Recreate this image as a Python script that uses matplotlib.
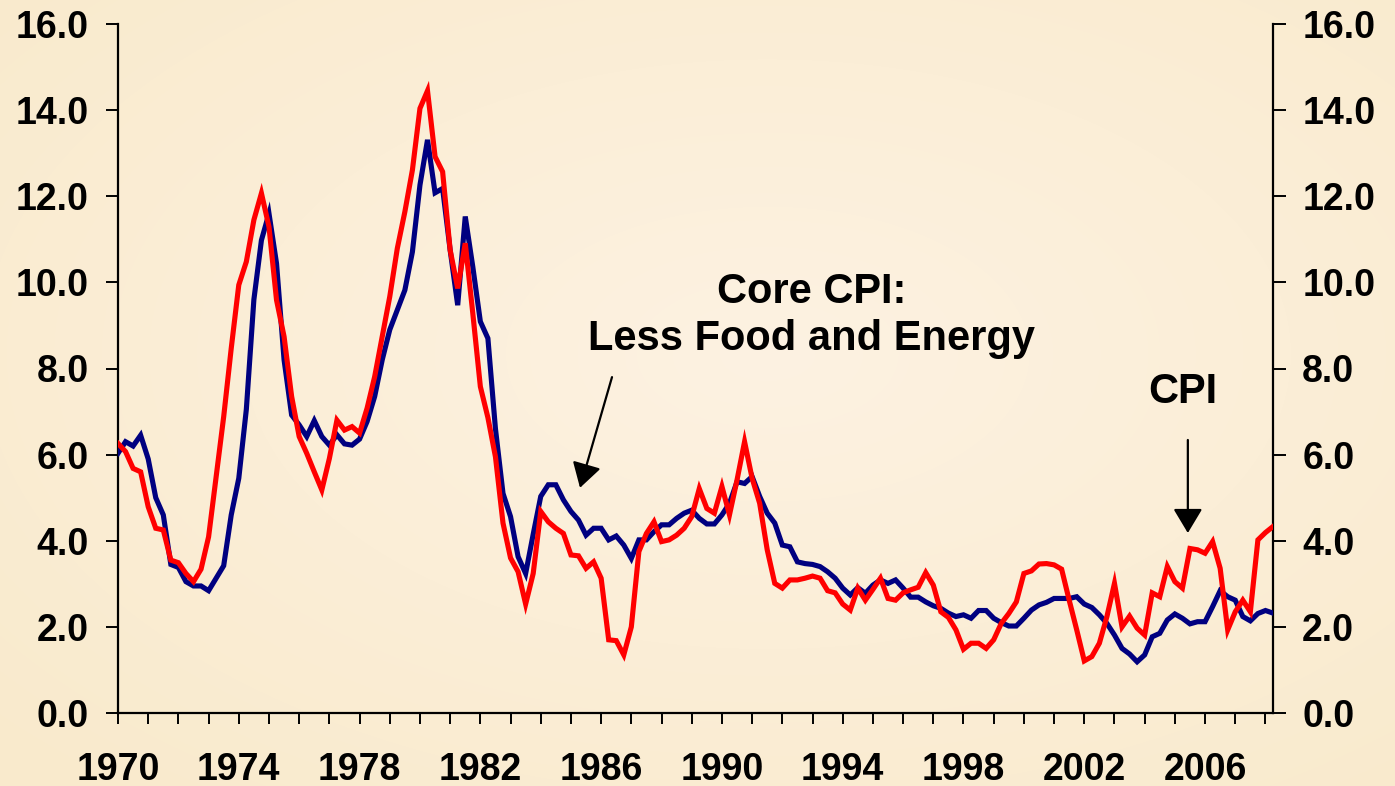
import numpy as np
import matplotlib
matplotlib.use("Agg")
import matplotlib.pyplot as plt

# quarterly data, 1970Q1 .. 2008Q2 (percent, yoy)
start_year = 1970
core_cpi = [6.03, 6.30, 6.20, 6.45, 5.90, 5.00, 4.60, 3.45, 3.38, 3.05,
            2.95, 2.95, 2.84, 3.13, 3.42, 4.60, 5.45, 7.05, 9.60, 10.98,
            11.60, 10.44, 8.20, 6.92, 6.69, 6.42, 6.79, 6.42, 6.22, 6.46,
            6.25, 6.22, 6.36, 6.77, 7.35, 8.20, 8.90, 9.36, 9.82, 10.71,
            12.26, 13.31, 12.08, 12.18, 10.75, 9.47, 11.53, 10.36, 9.09, 8.70,
            6.60, 5.10, 4.56, 3.63, 3.24, 4.15, 5.03, 5.30, 5.30, 4.95,
            4.68, 4.48, 4.13, 4.29, 4.29, 4.02, 4.11, 3.90, 3.59, 4.02,
            4.02, 4.21, 4.37, 4.37, 4.52, 4.64, 4.71, 4.52, 4.39, 4.39,
            4.60, 4.87, 5.37, 5.33, 5.49, 5.03, 4.64, 4.41, 3.90, 3.86,
            3.51, 3.47, 3.45, 3.40, 3.28, 3.13, 2.90, 2.74, 2.91, 2.78,
            2.97, 3.09, 3.01, 3.09, 2.90, 2.69, 2.69, 2.58, 2.49, 2.43,
            2.32, 2.24, 2.28, 2.20, 2.38, 2.38, 2.20, 2.10, 2.02, 2.02,
            2.20, 2.39, 2.51, 2.57, 2.66, 2.66, 2.66, 2.70, 2.53, 2.45,
            2.28, 2.08, 1.81, 1.50, 1.37, 1.19, 1.35, 1.77, 1.85, 2.16,
            2.30, 2.20, 2.07, 2.12, 2.12, 2.47, 2.84, 2.70, 2.62, 2.24,
            2.14, 2.31, 2.38, 2.32]
cpi = [6.26, 6.07, 5.68, 5.60, 4.79, 4.29, 4.25, 3.55, 3.49, 3.24,
       3.05, 3.34, 4.09, 5.49, 6.88, 8.47, 9.94, 10.48, 11.45, 12.07,
       11.29, 9.59, 8.74, 7.35, 6.42, 6.03, 5.60, 5.18, 5.91, 6.80,
       6.57, 6.65, 6.50, 7.08, 7.81, 8.74, 9.67, 10.79, 11.64, 12.61,
       14.04, 14.45, 12.92, 12.57, 10.75, 9.86, 10.91, 9.28, 7.58, 6.86,
       5.95, 4.41, 3.60, 3.28, 2.53, 3.24, 4.68, 4.44, 4.29, 4.17,
       3.67, 3.65, 3.36, 3.51, 3.13, 1.70, 1.68, 1.35, 2.00, 3.75,
       4.17, 4.44, 3.98, 4.02, 4.13, 4.29, 4.56, 5.21, 4.75, 4.64,
       5.26, 4.60, 5.41, 6.30, 5.45, 4.87, 3.79, 3.01, 2.90, 3.09,
       3.09, 3.13, 3.18, 3.13, 2.84, 2.79, 2.53, 2.39, 2.90, 2.62,
       2.87, 3.13, 2.66, 2.62, 2.79, 2.86, 2.92, 3.26, 2.97, 2.35,
       2.22, 1.93, 1.48, 1.62, 1.62, 1.50, 1.70, 2.08, 2.31, 2.58,
       3.24, 3.30, 3.46, 3.47, 3.44, 3.34, 2.62, 1.93, 1.21, 1.31,
       1.62, 2.24, 3.01, 2.00, 2.25, 1.97, 1.81, 2.79, 2.70, 3.40,
       3.05, 2.90, 3.82, 3.79, 3.71, 3.98, 3.36, 1.93, 2.35, 2.62,
       2.35, 4.02, 4.19, 4.33]
year_labels = list(range(1970, 2007, 4))
y_ticks = [0, 2, 4, 6, 8, 10, 12, 14, 16]

x = start_year + np.arange(len(cpi)) / 4.0

plt.rcParams['font.family'] = ['Liberation Sans', 'DejaVu Sans']
plt.rcParams['font.weight'] = 'bold'

fig = plt.figure(figsize=(13.95, 7.86), dpi=100)

# beige background, a bit lighter in the middle
H, W = 786, 1395
yy, xx = np.mgrid[0:H, 0:W]
r = np.sqrt(((xx - W * 0.55) / W) ** 2 + ((yy - H * 0.45) / H) ** 2)
r = np.clip(r / 0.75, 0, 1)
c_in = np.array([253, 242, 226]) / 255.0
c_out = np.array([249, 234, 204]) / 255.0
bg = c_in[None, None, :] * (1 - r[..., None]) + c_out[None, None, :] * r[..., None]
fig.figimage(bg, 0, 0, zorder=-10)

ax = fig.add_axes([118 / W, 1 - 713 / H, (1273 - 118) / W, (713 - 24) / H])
ax.set_facecolor('none')
ax.set_zorder(5)

ax.plot(x, core_cpi, color='#000080', lw=3.7, solid_joinstyle='miter', zorder=3)
ax.plot(x, cpi, color='#FF0000', lw=3.7, solid_joinstyle='miter', zorder=4)

ax.set_xlim(start_year, x[-1])
ax.set_ylim(0, 16)

ax.set_xticks(year_labels)
ax.set_xticklabels([str(y) for y in year_labels])
ax.set_xticks(np.arange(1970, 2009, 1), minor=True)
ax.set_yticks(y_ticks)
ax.set_yticklabels(['%.1f' % v for v in y_ticks])

ax.spines['top'].set_visible(False)
for s in ['left', 'right', 'bottom']:
    ax.spines[s].set_linewidth(1.6)

ax.tick_params(axis='x', which='both', direction='out', length=8, width=1.4,
               labelsize=27, pad=20)
ax.tick_params(axis='y', which='major', direction='out', length=9, width=1.4,
               labelsize=27, pad=12, left=True, right=True,
               labelleft=True, labelright=True)
for lab in ax.get_xticklabels() + ax.get_yticklabels():
    lab.set_fontweight('bold')

# annotations
arrow = dict(arrowstyle='-|>,head_length=0.5,head_width=0.3',
             mutation_scale=30, lw=1.6, color='black', shrinkA=0, shrinkB=0)
ax.text(1992.98, 9.23, 'Core CPI:\nLess Food and Energy', ha='center', va='center',
        fontsize=30, fontweight='bold', linespacing=1.25)
ax.annotate('', xy=(1985.30, 5.23), xytext=(1986.36, 7.80), arrowprops=arrow)
ax.text(2005.27, 7.45, 'CPI', ha='center', va='center', fontsize=30, fontweight='bold')
ax.annotate('', xy=(2005.43, 4.18), xytext=(2005.43, 6.34), arrowprops=arrow)

fig.savefig('out.png', dpi=100)
